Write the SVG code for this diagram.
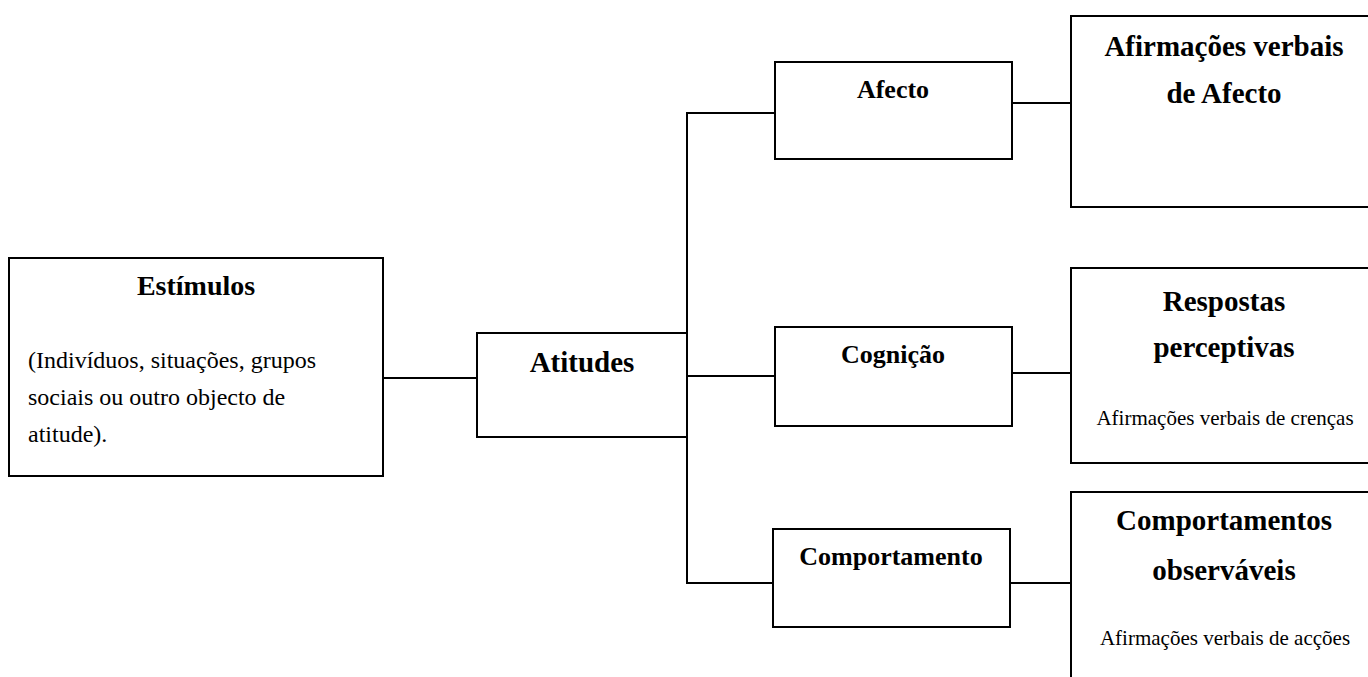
<svg xmlns="http://www.w3.org/2000/svg" width="1368" height="677" viewBox="0 0 1368 677">
<style>
.box{fill:#fff;stroke:#000;stroke-width:2}
.ln{stroke:#000;stroke-width:2;fill:none}
.t{font-family:"Liberation Serif","Times New Roman",serif;fill:#000}
.b{font-weight:bold}
.c{text-anchor:middle}
</style>
<rect width="1368" height="677" fill="#fff"/>
<g id="connectors">
<line class="ln" x1="383" y1="378" x2="477" y2="378"/>
<line class="ln" x1="687" y1="112" x2="687" y2="584"/>
<line class="ln" x1="686" y1="113" x2="775" y2="113"/>
<line class="ln" x1="687" y1="376" x2="775" y2="376"/>
<line class="ln" x1="686" y1="583" x2="773" y2="583"/>
<line class="ln" x1="1009" y1="103" x2="1071" y2="103"/>
<line class="ln" x1="1009" y1="373" x2="1071" y2="373"/>
<line class="ln" x1="1010" y1="583" x2="1071" y2="583"/>
</g>
<g id="estimulos">
<rect class="box" x="9" y="258" width="374" height="218"/>
<text class="t b c" x="196" y="295" font-size="28">Estímulos</text>
<text class="t" x="28" y="368" font-size="24">(Indivíduos, situações, grupos</text>
<text class="t" x="28" y="405" font-size="24">sociais ou outro objecto de</text>
<text class="t" x="28" y="442" font-size="24">atitude).</text>
</g>
<g id="atitudes">
<rect class="box" x="477" y="333" width="210" height="104"/>
<text class="t b c" x="582" y="372" font-size="29">Atitudes</text>
</g>
<g id="afecto">
<rect class="box" x="775" y="62" width="237" height="97"/>
<text class="t b c" x="893" y="98" font-size="26">Afecto</text>
</g>
<g id="cognicao">
<rect class="box" x="775" y="327" width="237" height="99"/>
<text class="t b c" x="893" y="363" font-size="26">Cognição</text>
</g>
<g id="comportamento">
<rect class="box" x="773" y="529" width="237" height="98"/>
<text class="t b c" x="891" y="565" font-size="26">Comportamento</text>
</g>
<g id="afirmacoes-afecto">
<rect class="box" x="1071" y="16" width="320" height="191"/>
<text class="t b c" x="1224" y="56" font-size="29">Afirmações verbais</text>
<text class="t b c" x="1224" y="103" font-size="29">de Afecto</text>
</g>
<g id="respostas">
<rect class="box" x="1071" y="268" width="320" height="195"/>
<text class="t b c" x="1224" y="311" font-size="29">Respostas</text>
<text class="t b c" x="1224" y="357" font-size="29">perceptivas</text>
<text class="t c" x="1225" y="425" font-size="21">Afirmações verbais de crenças</text>
</g>
<g id="comportamentos">
<rect class="box" x="1071" y="492" width="320" height="220"/>
<text class="t b c" x="1224" y="530" font-size="29">Comportamentos</text>
<text class="t b c" x="1224" y="580" font-size="29">observáveis</text>
<text class="t c" x="1225" y="645" font-size="21">Afirmações verbais de acções</text>
</g>
</svg>
